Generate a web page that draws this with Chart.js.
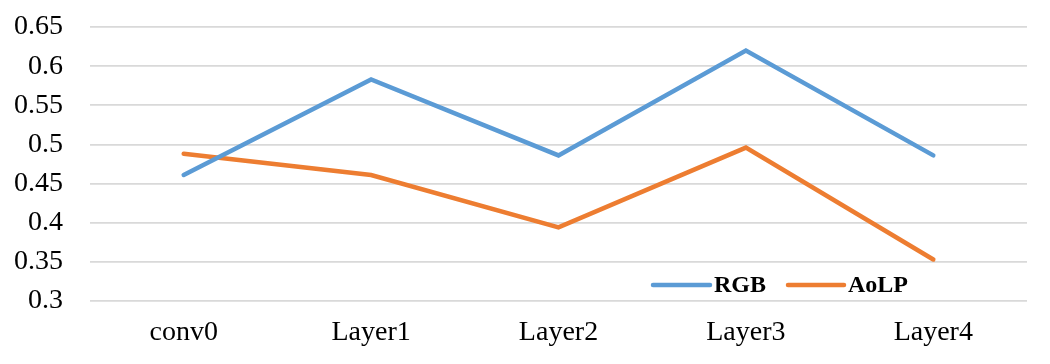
<!DOCTYPE html>
<html>
<head>
<meta charset="utf-8">
<script src="https://cdn.jsdelivr.net/npm/chart.js@4"></script>
<style>
    html, body { margin: 0; padding: 0; background: #fff; }
    #wrap { width: 1050px; height: 364px; }
</style>
</head>
<body>
<div id="wrap"><canvas id="layerChart"></canvas></div>
<script>
const categories = ['conv0', 'Layer1', 'Layer2', 'Layer3', 'Layer4'];
const rgbValues = [0.461, 0.583, 0.486, 0.620, 0.486];
const aolpValues = [0.488, 0.461, 0.394, 0.496, 0.353];
const yTicks = [0.3, 0.35, 0.4, 0.45, 0.5, 0.55, 0.6, 0.65];

const blue = '#5b9bd5';
const orange = '#ed7d31';
const serif = '"Liberation Serif", "Times New Roman", serif';

// legend sits inside the plot, bottom right
const insideLegend = {
    id: 'insideLegend',
    afterDraw(chart) {
        const ctx = chart.ctx;
        const items = [
            { x: 653, w: 57, text: chart.data.datasets[0].label, color: blue },
            { x: 788, w: 56, text: chart.data.datasets[1].label, color: orange }
        ];
        const y = 285;
        ctx.save();
        ctx.lineCap = 'round';
        ctx.lineWidth = 4.5;
        ctx.font = 'bold 24px ' + serif;
        ctx.fillStyle = '#000';
        ctx.textBaseline = 'middle';
        items.forEach(item => {
            ctx.strokeStyle = item.color;
            ctx.beginPath();
            ctx.moveTo(item.x, y);
            ctx.lineTo(item.x + item.w, y);
            ctx.stroke();
            ctx.fillText(item.text, item.x + item.w + 4, y + 1);
        });
        ctx.restore();
    }
};

const ctx = document.getElementById('layerChart').getContext('2d');
new Chart(ctx, {
    type: 'line',
    data: {
        labels: categories,
        datasets: [{
            label: 'RGB',
            data: rgbValues,
            borderColor: blue,
            backgroundColor: blue,
            borderWidth: 4.5,
            borderCapStyle: 'round',
            pointRadius: 0,
            tension: 0,
            fill: false
        }, {
            label: 'AoLP',
            data: aolpValues,
            borderColor: orange,
            backgroundColor: orange,
            borderWidth: 4.5,
            borderCapStyle: 'round',
            pointRadius: 0,
            tension: 0,
            fill: false
        }]
    },
    options: {
        responsive: true,
        maintainAspectRatio: false,
        animation: false,
        layout: { padding: { left: 0, right: 23, top: 27, bottom: 0 } },
        plugins: {
            legend: { display: false },
            tooltip: { enabled: false }
        },
        scales: {
            x: {
                offset: true,
                grid: { display: false, drawTicks: false },
                border: { display: false },
                ticks: {
                    color: '#000',
                    padding: 15,
                    font: { family: serif, size: 28 }
                },
                afterFit: scale => {
                    scale.height = 63;
                    scale.paddingLeft = 0;
                    scale.paddingRight = 0;
                }
            },
            y: {
                min: 0.3,
                max: 0.65,
                afterBuildTicks: scale => {
                    scale.ticks = yTicks.map(v => ({ value: v }));
                },
                grid: { color: '#d9d9d9', lineWidth: 1.7, drawTicks: false },
                border: { display: false },
                ticks: {
                    color: '#000',
                    padding: 27,
                    font: { family: serif, size: 28 },
                    callback: v => String(Math.round(v * 100) / 100)
                },
                afterFit: scale => {
                    scale.width = 90;
                    scale.paddingTop = 0;
                    scale.paddingBottom = 0;
                }
            }
        }
    },
    plugins: [insideLegend]
});
</script>
</body>
</html>
